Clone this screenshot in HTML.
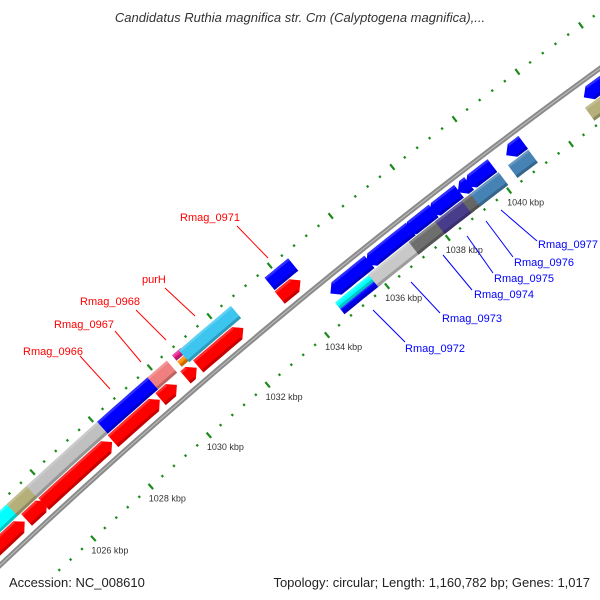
<!DOCTYPE html>
<html><head><meta charset="utf-8"><style>
html,body{margin:0;padding:0;background:#fff;overflow:hidden;width:600px;height:600px;}
svg{display:block;}
</style></head><body>
<svg id="s" width="600" height="600" viewBox="0 0 600 600" xmlns="http://www.w3.org/2000/svg">
<rect width="600" height="600" fill="#fff"/>
<g id="g"></g>
<text x="300" y="22" text-anchor="middle" font-family="Liberation Sans, sans-serif" font-style="italic" font-size="13" fill="#333">Candidatus Ruthia magnifica str. Cm (Calyptogena magnifica),...</text>
<text x="9" y="587" font-family="Liberation Sans, sans-serif" font-size="13" fill="#222">Accession: NC_008610</text>
<text x="590" y="587" text-anchor="end" font-family="Liberation Sans, sans-serif" font-size="13" fill="#222">Topology: circular; Length: 1,160,782 bp; Genes: 1,017</text>
</svg>
<script>
(function(){
var NS="http://www.w3.org/2000/svg";
var g=document.getElementById("g");
var cx=4102,cy=4907,R=5973,D=Math.PI/180;
function ang(x,y){return Math.atan2(y-cy,x-cx);}
function ka(k){return(-132.54+(k-1026)*0.3743)*D;}
function P(r,a){return[cx+r*Math.cos(a),cy+r*Math.sin(a)];}
function el(t,at){var e=document.createElementNS(NS,t);for(var k in at)e.setAttribute(k,at[k]);g.appendChild(e);return e;}
function poly(pts,fill,op){return el("polygon",{points:pts.map(function(p){return p[0].toFixed(1)+","+p[1].toFixed(1)}).join(" "),fill:fill,"fill-opacity":op==null?1:op});}
function arcPts(r,a0,a1,n){var o=[];for(var i=0;i<=n;i++)o.push(P(r,a0+(a1-a0)*i/n));return o;}
var bb=arcPts(R,ka(1016),ka(1052),80);
el("polyline",{points:bb.map(function(p){return p.join(",")}).join(" "),fill:"none",stroke:"#8a8a8a","stroke-width":5});
el("polyline",{points:bb.map(function(p){return p.join(",")}).join(" "),fill:"none",stroke:"#b8b8b8","stroke-width":1.2});
function ticks(r,labels){
  for(var i=0;i<=90;i++){
    var k=1016+i*0.4,a=ka(k),big=(i%5==0);
    var L=big?3.5:1.2;
    var p0=P(r-L,a),p1=P(r+L,a);
    if(p0[1]>578&&p0[0]<300)continue;
    el("line",{x1:p0[0],y1:p0[1],x2:p1[0],y2:p1[1],stroke:"#1a8a1a","stroke-width":2.2});
    var kk=Math.round(k);
    if(labels&&big&&(kk%2==0)&&kk>=1026&&kk<=1040){
      var t=el("text",{x:(P(r,a)[0]-2).toFixed(1),y:(P(r,a)[1]+15).toFixed(1),"font-family":"Liberation Sans, sans-serif","font-size":"9",fill:"#333"});
      t.textContent=kk+" kbp";
    }
  }
}
ticks(R+46,false);
ticks(R-44,true);
function bar(x0,y0,x1,y1,r,w,col,dir){
  var a0=ang(x0,y0),a1=ang(x1,y1);if(a0>a1){var t=a0;a0=a1;a1=t;}
  var h=Math.min(8/r,(a1-a0)*0.6),ri=r-w/2,ro=r+w/2,pts,sh;
  if(dir==1){pts=arcPts(ri,a0,a1-h,6).concat([P(r,a1)]).concat(arcPts(ro,a1-h,a0,6));sh=[a0,a1-h];}
  else if(dir==-1){pts=[P(r,a0)].concat(arcPts(ri,a0+h,a1,6)).concat(arcPts(ro,a1,a0+h,6));sh=[a0+h,a1];}
  else{pts=arcPts(ri,a0,a1,6).concat(arcPts(ro,a1,a0,6));sh=[a0,a1];}
  poly(pts,col);
  poly(arcPts(ri,sh[0],sh[1],6).concat(arcPts(ri+3,sh[1],sh[0],6)),"#000",0.22);
  poly(arcPts(ro-2.5,sh[0],sh[1],6).concat(arcPts(ro,sh[1],sh[0],6)),"#fff",0.18);
}
var O1=R+15,O2=R+32,I1=R-14,I2=R-31,W=16;
bar(-20,570,25,522,O1,W,"#ff0000",1);
bar(22,515,44,498,O1,W,"#ff0000",1);
bar(40,500,113,443,O1,W,"#ff0000",1);
bar(112,440,160,400,O1,W,"#ff0000",1);
bar(157,395,177,385,O1,W,"#ff0000",1);
bar(186,378,197,368,O1,W,"#ff0000",1);
bar(197,365,245,330,O1,W,"#ff0000",1);
bar(280,298,301,281,O1,W,"#ff0000",1);
bar(-20,545,15,505,O2,W,"#00ffff",0);
bar(12,510,35,485,O2,W,"#b5b07a",0);
bar(30,490,103,428,O2,W,"#c0c0c0",0);
bar(100,425,152,382,O2,W,"#0000ff",0);
bar(148,378,168,362,O2,W,"#f08080",0);
bar(176,360,184,352,R+37,7,"#e8208c",0);
bar(181,366,189,358,R+29,7,"#ff8c00",0);
bar(183,355,236,312,O2,W,"#3cc6ef",0);
bar(268,282,292,263,O2,W,"#0000ff",0);
bar(330,293,368,260,I1,W,"#0000ff",-1);
bar(365,263,410,228,I1,W,"#0000ff",-1);
bar(405,232,433,210,I1,W,"#0000ff",-1);
bar(428,212,458,190,I1,W,"#0000ff",-1);
bar(456,190,468,182,I1,W,"#0000ff",-1);
bar(465,185,492,165,I1,W,"#0000ff",-1);
bar(506,155,523,142,I1,W,"#0000ff",-1);
bar(582,95,640,40,I1,W,"#0000ff",-1);
bar(337,305,377,277,R-35,8,"#0000ff",0);
bar(337,305,377,277,R-28,8,"#00ffff",0);
bar(375,283,420,245,I2,W,"#c8c8c8",0);
bar(415,250,443,225,I2,W,"#6e6e6e",0);
bar(440,228,470,205,I2,W,"#483d8b",0);
bar(465,205,478,195,I2,W,"#666666",0);
bar(475,200,503,178,I2,W,"#4682b4",0);
bar(513,172,533,156,I2,W,"#4682b4",0);
bar(588,112,640,60,I2,W,"#b5b07a",0);
function lab(txt,tx,ty,lx0,ly0,lx1,ly1,col){
  el("line",{x1:lx0,y1:ly0,x2:lx1,y2:ly1,stroke:col,"stroke-width":1});
  var t=el("text",{x:tx,y:ty,"font-family":"Liberation Sans, sans-serif","font-size":"11",fill:col});t.textContent=txt;
}
var RD="#ff0000",BL="#0000ff";
lab("Rmag_0971",180,221,237,226,268,258,RD);
lab("purH",142,283,165,288,195,316,RD);
lab("Rmag_0968",80,305,136,310,166,340,RD);
lab("Rmag_0967",54,328,115,331,141,362,RD);
lab("Rmag_0966",23,355,80,356,110,389,RD);
lab("Rmag_0972",405,352,373,310,405,342,BL);
lab("Rmag_0973",442,322,411,282,440,313,BL);
lab("Rmag_0974",474,298,443,255,472,290,BL);
lab("Rmag_0975",494,282,467,236,493,273,BL);
lab("Rmag_0976",514,266,486,221,513,257,BL);
lab("Rmag_0977",538,248,501,210,537,241,BL);
})();
</script>
</body></html>
